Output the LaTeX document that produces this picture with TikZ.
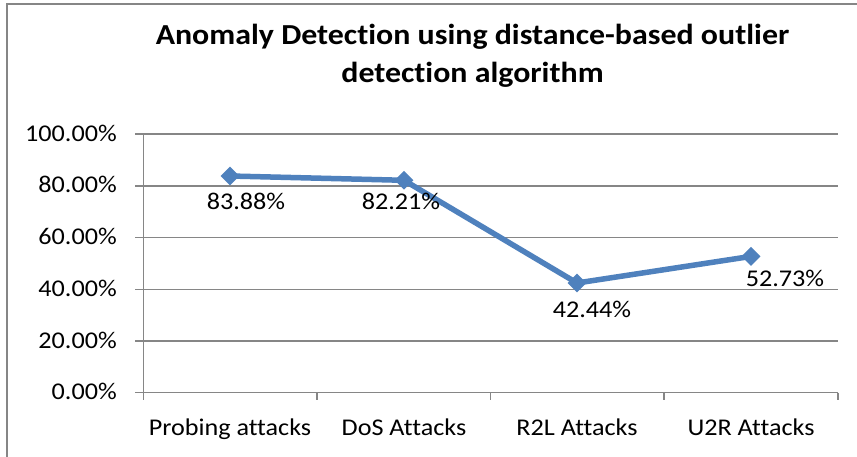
\documentclass[tikz,border=0pt]{standalone}
\usepackage{fontspec}
\setmainfont{Carlito}[Ligatures={NoCommon}]
\usetikzlibrary{shapes.geometric}
\definecolor{gridc}{HTML}{868686}
\definecolor{serc}{HTML}{4F81BD}
\begin{document}
\begin{tikzpicture}[x=1pt,y=-1pt,
  gridline/.style={draw=gridc,line width=1.5pt},
  lbl/.style={font=\fontsize{24}{28}\selectfont, inner sep=0pt, anchor=base},
  ttl/.style={font=\bfseries\fontsize{29}{35}\selectfont, inner sep=0pt, anchor=base},
  mk/.style={diamond, fill=serc, draw=none, minimum size=19pt, inner sep=0pt},
  ser/.style={draw=serc,line width=5.5pt,line join=round}
]
\useasboundingbox (0,0) rectangle (857,457);
\fill[white] (0,0) rectangle (857,457);
% outer frame
\draw[gridc, line width=1.3pt] (7,457) -- (7,4) -- (857,4);
% title
\node[ttl] (t1) at (472.5,45) {\scalebox{1.1}[1]{Anomaly Detection using distance-based outlier}};
\node[ttl] (t2) at (472.5,83) {\scalebox{1.1}[1]{detection algorithm}};
% gridlines and y labels
\foreach \v/\t in {0/0.00, 1/20.00, 2/40.00, 3/60.00, 4/80.00, 5/100.00}{
  \pgfmathsetmacro{\yy}{392.7-\v*51.7}
  \draw[gridline] (135,\yy) -- (838,\yy);
  \node[lbl, anchor=base east] (yl\v) at (117,\yy+7) {\scalebox{1.09}[1]{\t\%}};
}
% y axis
\draw[gridline] (143.3,133.5) -- (143.3,400);
% x ticks
\foreach \x in {317,490.5,664,838}{
  \draw[gridline] (\x,392.7) -- (\x,400);
}
% category labels
\node[lbl] (c1) at (230,435) {\scalebox{1.09}[1]{Probing attacks}};
\node[lbl] (c2) at (404,435) {\scalebox{1.09}[1]{DoS Attacks}};
\node[lbl] (c3) at (577,435) {\scalebox{1.09}[1]{R2L Attacks}};
\node[lbl] (c4) at (751,435) {\scalebox{1.09}[1]{U2R Attacks}};
% series
\coordinate (d1) at (230,176);
\coordinate (d2) at (404,180.3);
\coordinate (d3) at (577,283);
\coordinate (d4) at (751,256.4);
\draw[ser] (d1) -- (d2) -- (d3) -- (d4);
\node[mk] (m1) at (d1) {};
\node[mk] (m2) at (d2) {};
\node[mk] (m3) at (d3) {};
\node[mk] (m4) at (d4) {};
% data labels
\node[lbl] (v1) at (246,210) {\scalebox{1.09}[1]{83.88\%}};
\node[lbl] (v2) at (401,210) {\scalebox{1.09}[1]{82.21\%}};
\node[lbl] (v3) at (592,317) {\scalebox{1.09}[1]{42.44\%}};
\node[lbl] (v4) at (785,287) {\scalebox{1.09}[1]{52.73\%}};
\end{tikzpicture}
\end{document}
